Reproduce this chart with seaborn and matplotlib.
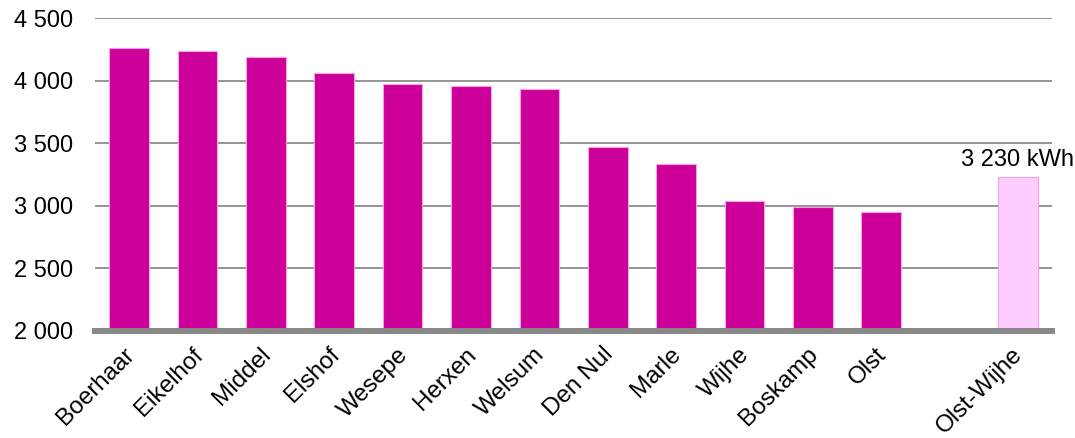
import matplotlib
matplotlib.use("Agg")
import matplotlib.pyplot as plt
import matplotlib.transforms as mtransforms
import seaborn as sns
import pandas as pd

categories = ["Boerhaar", "Eikelhof", "Middel", "Elshof", "Wesepe", "Herxen", "Welsum",
              "Den Nul", "Marle", "Wijhe", "Boskamp", "Olst", "Olst-Wijhe"]
values = [4260, 4240, 4190, 4060, 3970, 3960, 3930, 3470, 3330, 3040, 2990, 2950, 3230]
order = categories[:-1] + [""] + [categories[-1]]
yticks = [2000, 2500, 3000, 3500, 4000, 4500]
ytick_labels = ["2 000", "2 500", "3 000", "3 500", "4 000", "4 500"]
total_label = "3 230 kWh"

sns.set_theme(style="white")
plt.rcParams["font.family"] = ["Liberation Sans", "DejaVu Sans"]

df = pd.DataFrame({"kern": categories, "kWh": values})
palette = {c: "#CC0099" for c in categories}
palette["Olst-Wijhe"] = "#FFCCFF"

fig = plt.figure(figsize=(10.75, 4.38), dpi=100)
ax = fig.add_axes([0.0884, 0.2443, 0.8902, 0.7146])

sns.barplot(data=df, x="kern", y="kWh", hue="kern", order=order, palette=palette,
            legend=False, width=0.58, edgecolor="#F5A3E6", linewidth=0.8,
            ax=ax, zorder=3, saturation=1)

ax.set_ylim(2000, 4500)
ax.set_xlim(-0.5, len(order) - 0.5)
ax.set_yticks(yticks)
ax.set_yticklabels(ytick_labels, fontsize=17, color="black")
ax.yaxis.grid(True, color="#8C8C8C", linewidth=1.3, zorder=1)
ax.set_axisbelow(True)
ax.tick_params(axis="y", length=0, pad=16)
ax.tick_params(axis="x", length=0, pad=9)
ax.set_xticks(range(len(order)))
ax.set_xticklabels(order, rotation=45, ha="right", rotation_mode="anchor",
                   fontsize=17.5, color="black")
offset = mtransforms.ScaledTranslation(-6 / 100, 0, fig.dpi_scale_trans)
for lab in ax.get_xticklabels():
    lab.set_transform(lab.get_transform() + offset)
ax.set_xlabel("")
ax.set_ylabel("")
for s in ["left", "right", "top"]:
    ax.spines[s].set_visible(False)
ax.spines["bottom"].set_color("#888888")
ax.spines["bottom"].set_linewidth(4.3)
ax.spines["bottom"].set_zorder(4)

xi = order.index("Olst-Wijhe")
ax.text(xi, values[-1] + 50, total_label, ha="center", va="bottom", fontsize=17,
        color="black")

fig.savefig("out.png", dpi=100)
